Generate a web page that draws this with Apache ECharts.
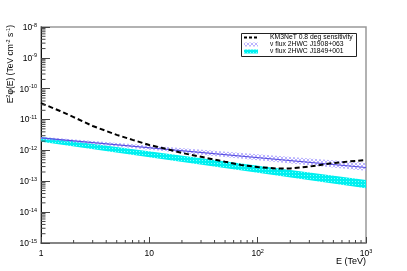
<!DOCTYPE html>
<html><head><meta charset="utf-8">
<script src="https://cdn.jsdelivr.net/npm/echarts@6/dist/echarts.min.js"></script>
<style>html,body{margin:0;padding:0;background:#fff}#c{width:407px;height:271px}</style>
</head><body><div id="c"></div>
<script>
// KM3NeT 0.8 deg sensitivity (TeV, TeV cm^-2 s^-1)
const sensE = [1, 1.5, 2, 3, 5, 7, 10, 15, 20, 30, 50, 70, 100, 150, 200, 300, 500, 700, 1000];
const sensF = [3.4e-11, 1.9e-11, 1.2e-11, 6.2e-12, 3.2e-12, 2.2e-12, 1.5e-12, 1.08e-12, 8.3e-13, 6.2e-13, 4.3e-13, 3.4e-13, 2.9e-13, 2.6e-13, 2.6e-13, 3.0e-13, 3.9e-13, 4.4e-13, 4.9e-13];
// nu flux 2HWC J1908+063 (band + central line)
const j1908E = [1, 1000];
const j1908Mid = [2.55e-12, 2.8e-13];
const j1908Hi = [2.8e-12, 3.9e-13];
const j1908Lo = [2.3e-12, 2.2e-13];
// nu flux 2HWC J1849+001 (band)
const j1849E = [1, 1000];
const j1849Hi = [2.7e-12, 1.1e-13];
const j1849Lo = [1.9e-12, 5.9e-14];
// axis ticks
const xTicks = [1, 10, 100, 1000];
const yTicks = [1e-15, 1e-14, 1e-13, 1e-12, 1e-11, 1e-10, 1e-9, 1e-8];
const legendNames = ['KM3NeT 0.8 deg sensitivity', '\u03bd flux 2HWC J1908+063', '\u03bd flux 2HWC J1849+001'];

function makeHatch() {
  const c = document.createElement('canvas'); c.width = 4; c.height = 4;
  const g = c.getContext('2d');
  g.strokeStyle = '#a8a0ff'; g.lineWidth = 0.8;
  g.beginPath(); g.moveTo(0, 0); g.lineTo(4, 4); g.moveTo(4, 0); g.lineTo(0, 4); g.stroke();
  return c;
}
function makeDots() {
  const c = document.createElement('canvas'); c.width = 3; c.height = 3;
  const g = c.getContext('2d');
  g.fillStyle = '#00f0f0'; g.fillRect(0, 0, 3, 3);
  g.fillStyle = '#80ffff'; g.fillRect(1, 1, 1, 1);
  return c;
}
const hatch = {image: makeHatch(), repeat: 'repeat'};
const dots = {image: makeDots(), repeat: 'repeat'};

function bandSeries(E, hi, lo, fill, z) {
  return {
    type: 'custom', z: z, silent: true, clip: true,
    data: E.map((e, i) => [e, hi[i]]),
    renderItem: function (params, api) {
      if (params.dataIndex !== 0) return null;
      const pts = [];
      for (let i = 0; i < E.length; i++) pts.push(api.coord([E[i], hi[i]]));
      for (let i = E.length - 1; i >= 0; i--) pts.push(api.coord([E[i], lo[i]]));
      return {type: 'polygon', shape: {points: pts}, style: {fill: fill, stroke: null}};
    }
  };
}

// minor tick positions (2..9 x decade)
const xMinor = [], yMinor = [];
for (let d = 0; d < 3; d++) for (let k = 2; k <= 9; k++) xMinor.push(k * Math.pow(10, d));
for (let d = -15; d < -8; d++) for (let k = 2; k <= 9; k++) yMinor.push(k * Math.pow(10, d));

function supLabel(v, plainOne) {
  const ex = Math.round(Math.log10(v));
  if (ex === 0) return '{b|1}';
  if (ex === 1 && plainOne) return '{b|10}';
  return '{b|10}{s|' + ex + '}';
}
const richLbl = {
  b: {fontSize: 8.5, fontFamily: 'Liberation Sans', color: '#000', lineHeight: 10, verticalAlign: 'bottom'},
  s: {fontSize: 5.5, fontFamily: 'Liberation Sans', color: '#000', lineHeight: 6, verticalAlign: 'top'}
};

const chart = echarts.init(document.getElementById('c'));
chart.setOption({
  animation: false,
  backgroundColor: '#fff',
  grid: {left: 41, top: 27, width: 325, height: 216, show: true, borderColor: '#999', borderWidth: 1.5, backgroundColor: 'transparent'},
  xAxis: {
    type: 'log', logBase: 10, min: 1, max: 1000, splitNumber: 3,
    axisLine: {lineStyle: {color: '#777', width: 1.5}},
    axisTick: {inside: true, length: 6, lineStyle: {color: '#444'}},
    splitLine: {show: false},
    axisLabel: {margin: 5, formatter: v => supLabel(v, true), rich: richLbl}
  },
  yAxis: {
    type: 'log', logBase: 10, min: 1e-15, max: 1e-8, splitNumber: 7,
    axisLine: {lineStyle: {color: '#111', width: 1}},
    axisTick: {inside: true, length: 9, lineStyle: {color: '#444'}},
    splitLine: {show: false},
    axisLabel: {margin: 4, formatter: v => supLabel(v, false), rich: richLbl}
  },
  graphic: [
    {type: 'text', x: 10, y: 25, rotation: Math.PI / 2,
     style: {text: '{b|E}{s|2}{b|\u03c6(E) (TeV cm}{s|-2}{b| s}{s|-1}{b|)}', align: 'right', verticalAlign: 'middle',
       rich: {b: {fontSize: 8.5, fontFamily: 'Liberation Sans', fill: '#000', lineHeight: 10, verticalAlign: 'bottom'},
              s: {fontSize: 5.5, fontFamily: 'Liberation Sans', fill: '#000', lineHeight: 6, verticalAlign: 'top'}}}},
    {type: 'text', x: 366, y: 262, style: {text: 'E (TeV)', align: 'right', verticalAlign: 'middle', fontSize: 9, fontFamily: 'Liberation Sans', fill: '#000'}},
    // legend
    {type: 'rect', shape: {x: 241.5, y: 33.5, width: 115, height: 23}, style: {fill: '#fff', stroke: '#222', lineWidth: 1}, z: 100},
    {type: 'line', shape: {x1: 244, y1: 37.5, x2: 258, y2: 37.5}, style: {stroke: '#000', lineWidth: 2, lineDash: [3, 2]}, z: 101},
    {type: 'rect', shape: {x: 244, y: 42.5, width: 14, height: 4}, style: {fill: hatch}, z: 101},
    {type: 'rect', shape: {x: 244, y: 49.5, width: 14, height: 4}, style: {fill: dots}, z: 101},
    {type: 'text', x: 270, y: 37.5, style: {text: legendNames[0], verticalAlign: 'middle', fontSize: 6.8, fontFamily: 'Liberation Sans', fill: '#000'}, z: 101},
    {type: 'text', x: 270, y: 44.5, style: {text: legendNames[1], verticalAlign: 'middle', fontSize: 6.8, fontFamily: 'Liberation Sans', fill: '#000'}, z: 101},
    {type: 'text', x: 270, y: 51.5, style: {text: legendNames[2], verticalAlign: 'middle', fontSize: 6.8, fontFamily: 'Liberation Sans', fill: '#000'}, z: 101}
  ],
  series: [
    bandSeries(j1849E, j1849Hi, j1849Lo, dots, 2),
    bandSeries(j1908E, j1908Hi, j1908Lo, hatch, 3),
    {type: 'line', name: legendNames[1], z: 4, silent: true, symbol: 'none',
     data: j1908E.map((e, i) => [e, j1908Mid[i]]), lineStyle: {color: '#5a50e0', width: 1.2}},
    {type: 'line', name: legendNames[0], z: 5, silent: true, symbol: 'none', smooth: false,
     data: sensE.map((e, i) => [e, sensF[i]]), lineStyle: {color: '#000', width: 2, type: [5, 3]}},
    {type: 'custom', z: 6, silent: true, clip: false, data: xMinor.map(v => [v, 1e-15]),
     renderItem: function (params, api) {
       const p = api.coord([api.value(0), 1e-15]);
       return {type: 'line', shape: {x1: p[0], y1: p[1], x2: p[0], y2: p[1] - 3}, style: {stroke: '#444', lineWidth: 1}};
     }},
    {type: 'custom', z: 6, silent: true, clip: false, data: yMinor.map(v => [1, v]),
     renderItem: function (params, api) {
       const p = api.coord([1, api.value(1)]);
       return {type: 'line', shape: {x1: p[0], y1: p[1], x2: p[0] + 4.5, y2: p[1]}, style: {stroke: '#444', lineWidth: 1}};
     }}
  ]
});
</script></body></html>
